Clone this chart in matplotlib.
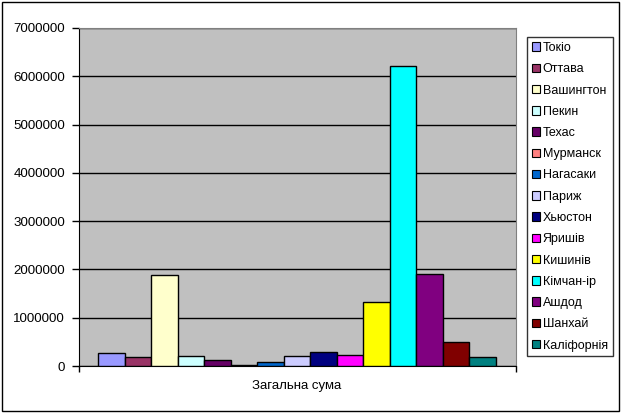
import matplotlib
matplotlib.use("Agg")
import matplotlib.pyplot as plt
import matplotlib.ticker as mticker
from matplotlib.patches import Patch, Rectangle
import numpy as np

# дані (оцінені з картинки)
cities = ["Токіо", "Оттава", "Вашингтон", "Пекин", "Техас", "Мурманск", "Нагасаки",
          "Париж", "Хьюстон", "Яришів", "Кишинів", "Кімчан-ір", "Ашдод", "Шанхай",
          "Каліфорнія"]
values = [265000, 185000, 1885000, 205000, 125000, 20000, 80000,
          205000, 290000, 230000, 1325000, 6210000, 1905000, 495000,
          185000]
colors = ["#9999FF", "#993366", "#FFFFCC", "#CCFFFF", "#660066", "#FF8080", "#0066CC",
          "#CCCCFF", "#000080", "#FF00FF", "#FFFF00", "#00FFFF", "#800080", "#800000",
          "#008080"]
category = "Загальна сума"

plt.rcParams['font.family'] = ['Liberation Sans', 'DejaVu Sans']

fig = plt.figure(figsize=(6.22, 4.15), dpi=100)
ax = fig.add_axes([79/622, 1 - 366/415, (516 - 79)/622, (366 - 28)/415])
ax.set_facecolor("#C0C0C0")

x = np.arange(len(cities))
ax.bar(x, values, width=1.0, color=colors, edgecolor="black", linewidth=1, zorder=3)

ax.set_ylim(0, 7000000)
ax.set_yticks(np.arange(0, 7000001, 1000000))
ax.yaxis.set_major_formatter(mticker.StrMethodFormatter('{x:.0f}'))
ax.yaxis.grid(True, color="black", linewidth=1)
ax.set_axisbelow(True)
ax.tick_params(axis='y', length=5, width=1, labelsize=9.6, pad=5, color="black")

ax.set_xlim(-0.5 - 0.73, len(cities) - 0.5 + 0.77)
ax.set_xticks([ax.get_xlim()[0], ax.get_xlim()[1]])
ax.set_xticklabels([])
ax.tick_params(axis='x', length=4, width=1, color="black")
ax.text((len(cities) - 1) / 2, -0.04, category, transform=ax.get_xaxis_transform(),
        ha='center', va='top', fontsize=9.5)

ax.spines['left'].set_color("black")
ax.spines['bottom'].set_color("black")
ax.spines['top'].set_color("#808080")
ax.spines['right'].set_color("#808080")

handles = [Patch(facecolor=c, edgecolor="black", linewidth=0.8, label=n)
           for c, n in zip(colors, cities)]
leg = fig.legend(handles=handles, loc='upper left', bbox_to_anchor=(527/622, 1 - 37/415),
                 fontsize=9, frameon=True, fancybox=False, borderpad=0.4,
                 labelspacing=0.74, handlelength=0.65, handleheight=0.65,
                 handletextpad=0.2, borderaxespad=0)
leg.get_frame().set_edgecolor("black")
leg.get_frame().set_linewidth(1)

# рамка навколо всієї діаграми
fig.patches.append(Rectangle((2/622, 4/415), 617/622, 409/415, transform=fig.transFigure,
                             fill=False, edgecolor="black", linewidth=1))

fig.savefig("out.png", dpi=100)
